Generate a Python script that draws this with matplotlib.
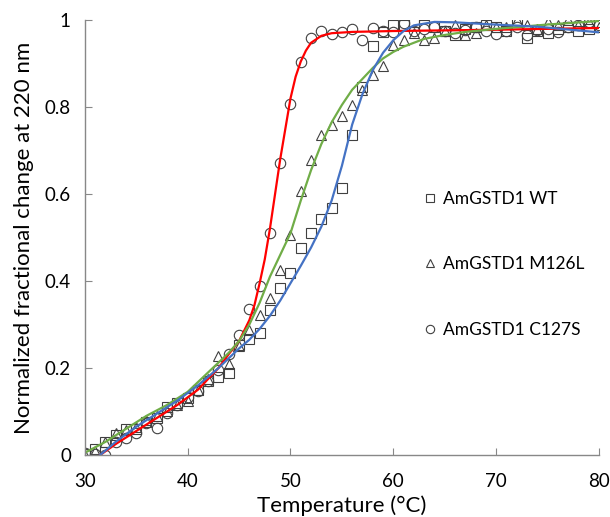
import matplotlib
matplotlib.use("Agg")
import matplotlib.pyplot as plt
from matplotlib.lines import Line2D

plt.rcParams['font.family'] = ['Lato', 'DejaVu Sans']

temps = list(range(30, 81))

wt = [0.002, 0.014, 0.03, 0.045, 0.06, 0.06, 0.075, 0.085, 0.11, 0.12,
      0.13, 0.15, 0.17, 0.18, 0.189, 0.253, 0.266, 0.28, 0.333, 0.385,
      0.418, 0.476, 0.51, 0.542, 0.567, 0.613, 0.736, 0.847, 0.94, 0.973,
      0.99, 0.99, 0.995, 0.99, 0.985, 0.975, 0.965, 0.98, 0.985, 0.99,
      0.985, 0.975, 0.995, 0.96, 0.975, 0.97, 0.98, 0.985, 0.975, 0.98, 0.995]

m126l = [0.0, 0.01, 0.03, 0.05, 0.058, 0.065, 0.08, 0.09, 0.1, 0.115,
         0.125, 0.15, 0.175, 0.228, 0.21, 0.25, 0.287, 0.322, 0.36, 0.425,
         0.506, 0.607, 0.678, 0.736, 0.76, 0.78, 0.806, 0.839, 0.873, 0.894,
         0.943, 0.955, 0.97, 0.955, 0.96, 0.975, 0.99, 0.965, 0.97, 0.99,
         0.985, 0.985, 1.0, 0.99, 0.98, 0.995, 0.99, 1.0, 0.99, 0.995, 0.985]

c127s = [0.004, 0.002, 0.0, 0.03, 0.038, 0.05, 0.073, 0.061, 0.097, 0.115,
         0.134, 0.146, 0.169, 0.195, 0.232, 0.276, 0.335, 0.389, 0.51, 0.672,
         0.808, 0.903, 0.958, 0.976, 0.968, 0.972, 0.979, 0.954, 0.983, 0.975,
         0.973, 0.994, 0.975, 0.98, 0.985, 0.975, 0.97, 0.978, 0.985, 0.975,
         0.969, 0.975, 0.985, 0.966, 0.978, 0.98, 0.972, 0.985, 0.99, 0.996, 0.99]

# fitted curves
red_t = [31.5, 33, 35, 37, 39, 41, 43, 44, 45, 46, 46.5, 47, 47.5, 48, 48.5, 49,
         49.5, 50, 50.5, 51, 51.5, 52, 53, 54, 56, 60, 70, 80]
red_y = [0.0, 0.025, 0.055, 0.085, 0.115, 0.15, 0.2, 0.232, 0.262, 0.31, 0.345,
         0.395, 0.45, 0.52, 0.6, 0.68, 0.75, 0.82, 0.87, 0.905, 0.93, 0.948,
         0.964, 0.97, 0.973, 0.975, 0.978, 0.982]

green_t = [30, 32, 34, 36, 38, 40, 42, 44, 45, 46, 47, 48, 49, 50, 51, 52, 53,
           54, 55, 56, 57, 58, 59, 60, 61, 63, 65, 67, 70, 75, 80]
green_y = [0.005, 0.03, 0.06, 0.09, 0.115, 0.145, 0.19, 0.235, 0.262, 0.3, 0.35,
           0.41, 0.46, 0.51, 0.585, 0.655, 0.715, 0.765, 0.805, 0.84, 0.865,
           0.89, 0.912, 0.927, 0.939, 0.957, 0.966, 0.973, 0.98, 0.99, 0.998]

blue_t = [31.5, 33, 35, 37, 39, 41, 43, 45, 46, 47, 48, 49, 50, 51, 52, 53, 54,
          55, 56, 57, 58, 59, 60, 61, 62, 64, 66, 69, 74, 80]
blue_y = [0.0, 0.03, 0.065, 0.095, 0.125, 0.16, 0.2, 0.245, 0.265, 0.29, 0.32,
          0.355, 0.395, 0.435, 0.477, 0.525, 0.585, 0.665, 0.76, 0.83, 0.885, 0.925,
          0.954, 0.975, 0.988, 0.996, 0.995, 0.991, 0.985, 0.972]

labels = ['AmGSTD1 WT', 'AmGSTD1 M126L', 'AmGSTD1 C127S']

fig = plt.figure(figsize=(6.10, 5.17), dpi=100)
ax = fig.add_axes([0.139, 0.12, 0.843, 0.841])

mk = dict(linestyle='none', markerfacecolor='none', markeredgecolor='#404040',
          markeredgewidth=0.8, markersize=7.5)
ax.plot(temps, wt, marker='s', **mk)
ax.plot(temps, m126l, marker='^', **mk)
ax.plot(temps, c127s, marker='o', **mk)

ax.plot(red_t, red_y, color='#FF0000', lw=1.6)
ax.plot(green_t, green_y, color='#70AD47', lw=1.6)
ax.plot(blue_t, blue_y, color='#4472C4', lw=1.6)

ax.set_xlim(30, 80)
ax.set_ylim(0, 1)
ax.set_xticks([30, 40, 50, 60, 70, 80])
ax.set_yticks([0, 0.2, 0.4, 0.6, 0.8, 1.0])
ax.set_yticklabels(['0', '0.2', '0.4', '0.6', '0.8', '1'])
for s in ['top', 'right']:
    ax.spines[s].set_visible(False)
for s in ['left', 'bottom']:
    ax.spines[s].set_color('#888888')
    ax.spines[s].set_linewidth(1.0)
ax.tick_params(direction='in', length=5, color='#888888', labelsize=13.5)
ax.tick_params(axis='x', pad=13)
ax.tick_params(axis='y', pad=10)
ax.set_xlabel('Temperature (°C)', fontsize=16, labelpad=4)
ax.set_ylabel('Normalized fractional change at 220 nm', fontsize=16, labelpad=8)

handles = [Line2D([], [], marker=m, linestyle='none', markerfacecolor='none',
                  markeredgecolor='#404040', markeredgewidth=0.8, markersize=6)
           for m in ['s', '^', 'o']]
ax.legend(handles, labels, frameon=False, fontsize=12.5, handlelength=0.6,
          handletextpad=0.5, labelspacing=2.85,
          loc='upper left', bbox_to_anchor=(0.63, 0.643))

fig.savefig('out.png', dpi=100)
